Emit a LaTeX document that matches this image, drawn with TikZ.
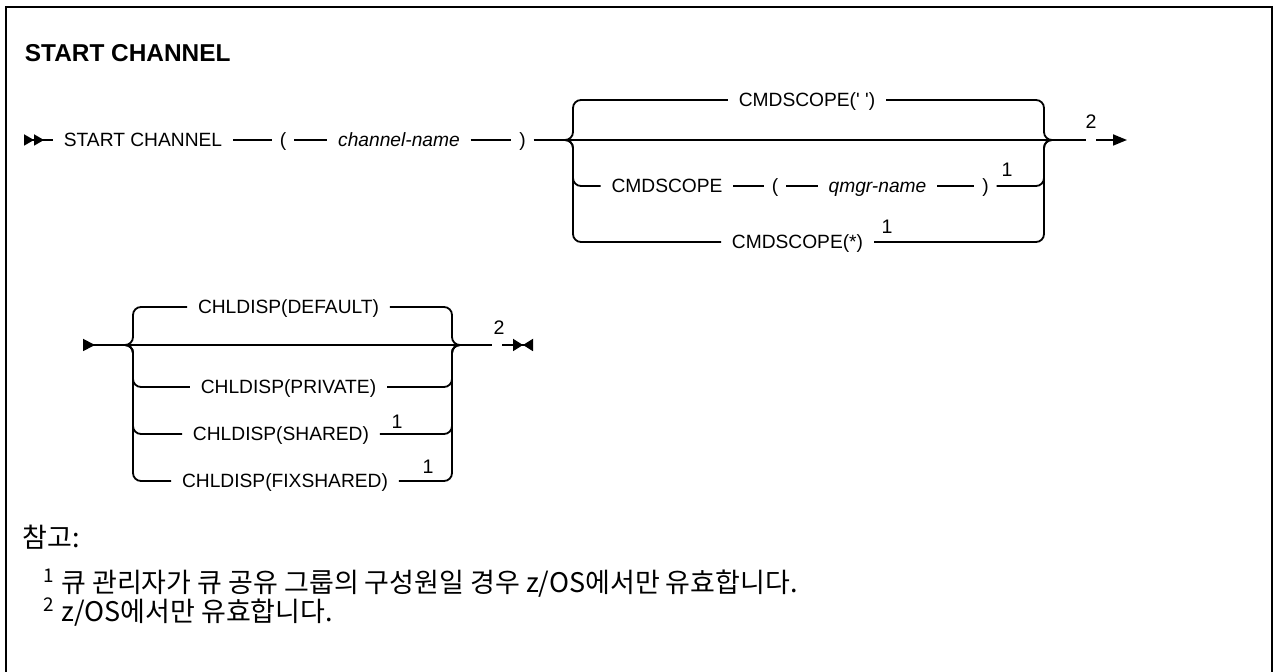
\documentclass[tikz,border=0pt]{standalone}
\usepackage{fontspec}
\setmainfont{Liberation Sans}[Ligatures=TeXOff]
\newfontfamily\krfont{Noto Sans CJK KR}
\usetikzlibrary{arrows.meta}

\begin{document}
\begin{tikzpicture}[
  x=0.5pt, y=-0.5pt,
  line width=0.9pt,
  kw/.style={font=\fontsize{9.6}{11}\selectfont, inner xsep=5pt, inner ysep=1pt,
             text height=6.9pt, text depth=0pt},
  var/.style={kw, font=\fontsize{9.6}{11}\selectfont\itshape},
  par/.style={kw, inner xsep=3.5pt},
  fn/.style={font=\fontsize{9.8}{11}\selectfont, inner sep=0pt},
  ttl/.style={font=\fontsize{12.2}{14}\selectfont\bfseries, anchor=west, inner sep=0pt},
  note/.style={font=\krfont\fontsize{13.5}{16}\selectfont, anchor=west, inner sep=0pt},
  br/.style={rounded corners=4pt},
  startmark/.style={{Triangle[reversed,length=5pt,width=5.5pt]Triangle[reversed,length=5pt,width=5.5pt]}-},
  contin/.style={{Triangle[reversed,length=6pt,width=6pt]}-},
  contout/.style={-{Triangle[length=7pt,width=5.5pt]}},
  stopmark/.style={-{Triangle[length=5pt,width=6pt]Triangle[reversed,length=5pt,width=6pt]}},
]

% ============ rows ============
\def\ya{140}  % START CHANNEL main line
\def\yb{345}  % CHLDISP main line

% frame and title
\useasboundingbox (0,0) rectangle (1274,672);
\draw[line width=1pt] (6,672) -- (6,7) -- (1272,7) -- (1272,672);
\node[ttl] (title) at (24,53) {START CHANNEL};

% ===================== Row 1: START CHANNEL / CMDSCOPE =====================
\coordinate (s1)  at (24,\ya);
\coordinate (jl1) at (565,\ya);  \coordinate (vl1) at (573,\ya);
\coordinate (vr1) at (1044,\ya); \coordinate (jr1) at (1055,\ya);
\coordinate (g1)  at (1086,\ya); \coordinate (h1)  at (1096,\ya);
\coordinate (e1)  at (1127,\ya);

\node[kw]  (sc)  at (143,\ya)   {START CHANNEL};
\node[par] (lp1) at (283,\ya)   {(};
\node[var] (chn) at (399,\ya)   {channel-name};
\node[par] (rp1) at (522.5,\ya) {)};

\node[kw]  (cq)  at (807,100)   {CMDSCOPE(' ')};
\node[kw]  (cs)  at (667,186)   {CMDSCOPE};
\node[par] (lp2) at (775,186)   {(};
\node[var] (qm)  at (877.5,186) {qmgr-name};
\node[par] (rp2) at (985.5,186) {)};
\node[fn]  (f1a) at (1007,170)  {1};
\node[kw]  (cst) at (797.5,242) {CMDSCOPE(*)};
\node[fn]  (f1b) at (887,227)   {1};
\node[fn]  (f2a) at (1091,122)  {2};

\draw[startmark] (s1) -- (sc);
\draw (sc) -- (lp1) -- (chn) -- (rp1) -- (jl1) -- (jr1) -- (g1);
\draw[contout] (h1) -- (e1);
\draw (cs) -- (lp2) -- (qm) -- (rp2);
\draw[br] (jl1) -- (vl1) |- (cq);  \draw[br] (cq) -| (vr1) -- (jr1);
\draw[br] (jl1) -- (vl1) |- (cs);  \draw[br] (rp2) -| (vr1) -- (jr1);
\draw[br] (jl1) -- (vl1) |- (cst); \draw[br] (cst) -| (vr1) -- (jr1);

% ===================== Row 2: CHLDISP =====================
\coordinate (s2)  at (83,\yb);
\coordinate (jl2) at (125,\yb); \coordinate (vl2) at (133,\yb);
\coordinate (vr2) at (452,\yb); \coordinate (jr2) at (463,\yb);
\coordinate (g2)  at (492,\yb); \coordinate (h2)  at (502,\yb);
\coordinate (e2)  at (533,\yb);

\node[kw] (cd)  at (288.5,307) {CHLDISP(DEFAULT)};
\node[kw] (cpr) at (288.5,387) {CHLDISP(PRIVATE)};
\node[kw] (csh) at (281,434)   {CHLDISP(SHARED)};
\node[fn] (f1c) at (397,422)   {1};
\node[kw] (cfx) at (285,481)   {CHLDISP(FIXSHARED)};
\node[fn] (f1d) at (428,467)   {1};
\node[fn] (f2b) at (499,328)   {2};

\draw[contin] (s2) -- (jl2) -- (jr2) -- (g2);
\draw[stopmark] (h2) -- (e2);
\foreach \n in {cd,cpr,csh,cfx}{
  \draw[br] (jl2) -- (vl2) |- (\n);
  \draw[br] (\n) -| (vr2) -- (jr2);
}

% ============ notes ============
\node[note] (nt) at (22,537) {참고:};
\node[note] (n1) at (43,583) {\textsuperscript{1} 큐 관리자가 큐 공유 그룹의 구성원일 경우 z/OS에서만 유효합니다.};
\node[note] (n2) at (43,612) {\textsuperscript{2} z/OS에서만 유효합니다.};

\end{tikzpicture}
\end{document}
